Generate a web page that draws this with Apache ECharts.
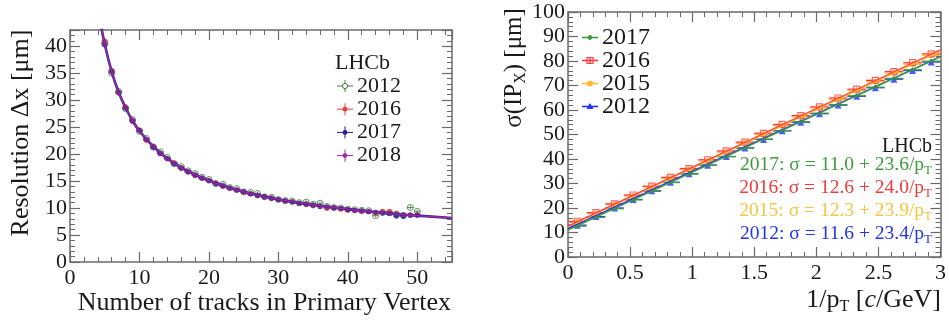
<!DOCTYPE html>
<html>
<head>
<meta charset="utf-8">
<script src="https://cdn.jsdelivr.net/npm/echarts@6/dist/echarts.min.js"></script>
<style>
  html, body { margin: 0; padding: 0; background: #fff; }
  #c { width: 949px; height: 327px; }
</style>
</head>
<body>
<div id="c"></div>
<script>
// ---------- Left panel: PV resolution vs number of tracks ----------
const nTracks = [5, 6, 7, 8, 9, 10, 11, 12, 13, 14, 15, 16, 17, 18, 19, 20, 21, 22, 23, 24, 25, 26, 27,
  28, 29, 30, 31, 32, 33, 34, 35, 36, 37, 38, 39, 40, 41, 42, 43, 44, 45, 46, 47, 48, 49, 50];
const res2012 = [40.6, 35.0, 31.6, 28.4, 26.4, 24.2, 22.9, 21.3, 20.4, 19.4, 18.2, 17.7, 16.9, 16.4, 15.7,
  15.3, 14.5, 14.4, 13.8, 13.6, 13.0, 12.9, 12.7, 12.1, 12.0, 11.6, 11.4, 11.3, 11.0, 11.1, 10.7, 10.9,
  10.3, 10.1, 10.0, 9.8, 9.7, 9.6, 9.5, 8.6, 9.2, 9.1, 8.9, 8.6, 10.1, 9.4];
const res2016 = [41.0, 35.6, 31.3, 28.8, 26.0, 24.5, 22.5, 21.5, 20.0, 19.1, 18.4, 17.3, 16.7, 16.0, 15.5,
  15.1, 14.7, 14.0, 13.6, 13.3, 12.9, 12.6, 12.3, 12.2, 11.7, 11.5, 11.2, 11.1, 10.8, 10.6, 10.4, 10.3,
  9.9, 10.0, 9.8, 9.6, 9.5, 9.3, 9.3, 9.1, 9.4, 9.4, 9.0, 8.7, 8.8, 8.8];
const res2017 = [40.2, 35.3, 31.5, 28.5, 26.2, 24.4, 22.7, 21.2, 20.1, 19.2, 18.2, 17.4, 16.7, 16.1, 15.5,
  15.0, 14.5, 14.1, 13.7, 13.3, 13.0, 12.6, 12.3, 12.0, 11.8, 11.6, 11.3, 11.1, 10.9, 10.7, 10.5, 10.3,
  10.2, 10.0, 9.9, 9.7, 9.6, 9.5, 9.3, 9.2, 9.1, 9.0, 8.5, 8.5, 8.6, 8.7];
const res2018 = [40.5, 35.2, 31.4, 28.6, 26.3, 24.3, 22.7, 21.4, 20.2, 19.2, 18.3, 17.5, 16.8, 16.2, 15.6,
  15.1, 14.6, 14.2, 13.7, 13.4, 13.0, 12.7, 12.4, 12.1, 11.9, 11.6, 11.4, 11.2, 10.9, 10.8, 10.6, 10.4,
  10.2, 10.1, 9.9, 9.8, 9.6, 9.5, 9.4, 9.2, 9.1, 9.0, 8.9, 8.8, 8.7, 8.6];
// fitted resolution curve, sampled
const fitN = [4.5, 5, 6, 7, 8, 9, 10, 12, 14, 16, 18, 20, 23, 26, 30, 35, 40, 45, 50, 55];
const fitRes = [43.6, 40.4, 35.3, 31.5, 28.6, 26.2, 24.3, 21.4, 19.2, 17.5, 16.2, 15.1, 13.8, 12.7, 11.6,
  10.6, 9.8, 9.1, 8.6, 8.15];
const leftYears = ['2012', '2016', '2017', '2018'];
const leftTicksX = [0, 10, 20, 30, 40, 50];
const leftTicksY = [0, 5, 10, 15, 20, 25, 30, 35, 40];

// ---------- Right panel: IP_x resolution vs 1/pT ----------
const invPt = [0.075, 0.225, 0.375, 0.525, 0.675, 0.825, 0.975, 1.125, 1.275, 1.425, 1.575, 1.725,
  1.875, 2.025, 2.175, 2.325, 2.475, 2.625, 2.775, 2.925];
const ip2017 = [12.6, 16.2, 19.7, 23.3, 26.8, 30.4, 33.9, 37.5, 41.0, 44.5, 48.1, 51.6, 55.2, 58.7, 62.2,
  65.8, 69.3, 72.9, 76.4, 79.9];
const ip2016 = [14.6, 18.1, 21.7, 25.3, 28.9, 32.5, 36.1, 39.7, 43.3, 46.9, 50.5, 54.1, 57.7, 61.3, 64.9,
  68.5, 72.1, 75.7, 79.3, 82.9];
const ip2015 = [14.3, 17.8, 21.4, 24.9, 28.5, 32.1, 35.7, 39.2, 42.8, 46.4, 50.0, 53.6, 57.2, 60.8, 64.3,
  67.9, 71.5, 75.1, 78.7, 82.3];
const ip2012 = [13.0, 16.5, 20.0, 23.5, 27.0, 30.5, 34.0, 37.5, 41.0, 44.5, 48.0, 51.5, 55.0, 58.5, 62.0,
  65.6, 69.1, 72.6, 76.1, 79.6];
const rightYears = ['2017', '2016', '2015', '2012'];
const fitConst = [11.0, 12.6, 12.3, 11.6];   // sigma = a + b/pT
const fitSlope = [23.6, 24.0, 23.9, 23.4];
const rightTicksX = [0, 0.5, 1, 1.5, 2, 2.5, 3];
const rightTicksY = [0, 10, 20, 30, 40, 50, 60, 70, 80, 90, 100];

// ---------- styling ----------
const FONT = '"Liberation Serif", "Times New Roman", serif';
const AX = '#6a6a6a';
const TXT = '#1a1a1a';
const leftColors = { '2012': '#3f7f3f', '2016': '#f23a3a', '2017': '#1e1ea0', '2018': '#a02ca0' };
const rightColors = { '2017': '#3c9c3c', '2016': '#ff3d3d', '2015': '#ffb935', '2012': '#2233ff' };
const rightText = { '2017': '#3c9c3c', '2016': '#f03a3a', '2015': '#f5c542', '2012': '#2233ee' };

function pairs(xs, ys) { return xs.map((x, i) => [x, ys[i]]); }

function errorBars(ex, ey, color, width) {
  return function (params, api) {
    const x = api.value(0), y = api.value(1);
    const l = api.coord([x - ex, y]), r = api.coord([x + ex, y]);
    const t = api.coord([x, y + ey]), b = api.coord([x, y - ey]);
    return {
      type: 'group',
      children: [
        { type: 'line', shape: { x1: l[0], y1: l[1], x2: r[0], y2: r[1] }, style: { stroke: color, lineWidth: width } },
        { type: 'line', shape: { x1: t[0], y1: t[1], x2: b[0], y2: b[1] }, style: { stroke: color, lineWidth: width } }
      ]
    };
  };
}

function valueAxis(grid, pos, min, max, interval, ticks, labels, fontSize, margin) {
  return {
    gridIndex: grid, type: 'value', position: pos, min: min, max: max, interval: interval,
    axisLine: { show: true, onZero: false, lineStyle: { color: AX, width: 1.5 } },
    axisTick: { show: true, inside: true, length: 10, lineStyle: { color: AX, width: 1.2 } },
    minorTick: { show: true, splitNumber: 5, length: 5, lineStyle: { color: AX, width: 1 } },
    splitLine: { show: false },
    axisLabel: labels ? {
      show: true, margin: margin, fontFamily: FONT, fontSize: fontSize, color: TXT,
      formatter: v => (ticks.indexOf(v) >= 0 ? String(v) : '')
    } : { show: false }
  };
}

const series = [];

// left panel points with error bars
const leftData = { '2012': res2012, '2016': res2016, '2017': res2017, '2018': res2018 };
leftYears.forEach(yr => {
  const d = pairs(nTracks, leftData[yr]);
  const c = leftColors[yr];
  series.push({
    type: 'custom', xAxisIndex: 0, yAxisIndex: 0, data: d, clip: true,
    renderItem: errorBars(0.5, 0.35, c, 0.8), z: 2, silent: true
  });
  series.push({
    type: 'scatter', xAxisIndex: 0, yAxisIndex: 0, data: d, z: 3, silent: true,
    symbol: 'circle', symbolSize: yr === '2012' ? 6 : 5,
    itemStyle: yr === '2012'
      ? { color: 'rgba(0,0,0,0)', borderColor: c, borderWidth: 1 }
      : { color: c, borderWidth: 0 }
  });
});
// left panel fitted curve
series.push({
  type: 'line', xAxisIndex: 0, yAxisIndex: 0, data: pairs(fitN, fitRes), smooth: true, showSymbol: false,
  lineStyle: { color: '#26268f', width: 2.6 }, z: 4, clip: true, silent: true
});
series.push({
  type: 'line', xAxisIndex: 0, yAxisIndex: 0, data: pairs(fitN, fitRes), smooth: true, showSymbol: false,
  lineStyle: { color: '#a3269f', width: 1.4 }, z: 5, clip: true, silent: true
});

// right panel points, error bars and linear fits
const rightData = { '2017': ip2017, '2016': ip2016, '2015': ip2015, '2012': ip2012 };
const rightSymbols = {
  '2012': { symbol: 'triangle', symbolSize: 7, itemStyle: { color: rightColors['2012'] } },
  '2017': { symbol: 'circle', symbolSize: 4, itemStyle: { color: rightColors['2017'] } },
  '2015': { symbol: 'circle', symbolSize: 6, itemStyle: { color: rightColors['2015'] } },
  '2016': { symbol: 'rect', symbolSize: 6, itemStyle: { color: 'rgba(0,0,0,0)', borderColor: rightColors['2016'], borderWidth: 1.2 } }
};
['2012', '2017', '2015', '2016'].forEach(yr => {
  const i = rightYears.indexOf(yr);
  const c = rightColors[yr];
  const d = pairs(invPt, rightData[yr]);
  series.push({
    type: 'custom', xAxisIndex: 2, yAxisIndex: 2, data: d, clip: true,
    renderItem: errorBars(0.075, 0.7, c, 1.3), z: 2, silent: true
  });
  series.push(Object.assign({ type: 'scatter', xAxisIndex: 2, yAxisIndex: 2, data: d, z: 3, silent: true },
    rightSymbols[yr]));
  series.push({
    type: 'line', xAxisIndex: 2, yAxisIndex: 2, showSymbol: false, silent: true, z: 4,
    data: [[0, fitConst[i]], [3, fitConst[i] + 3 * fitSlope[i]]],
    lineStyle: { color: c, width: 1.3 }
  });
});

// ---------- legends, labels and titles ----------
const graphic = [];
function crossMark(cx, cy, hw, hh, color, marker) {
  const kids = [
    { type: 'line', shape: { x1: cx - hw, y1: cy, x2: cx + hw, y2: cy }, style: { stroke: color, lineWidth: 1 } },
    { type: 'line', shape: { x1: cx, y1: cy - hh, x2: cx, y2: cy + hh }, style: { stroke: color, lineWidth: 1 } }
  ];
  if (marker) kids.push(marker);
  return kids;
}

// left legend
graphic.push({ type: 'text', x: 335, y: 63, style: { text: 'LHCb', font: '22px ' + FONT, fill: TXT, align: 'left', verticalAlign: 'middle' } });
leftYears.forEach((yr, k) => {
  const cy = 86 + k * 23.2, c = leftColors[yr];
  const mk = yr === '2012'
    ? { type: 'circle', shape: { cx: 345, cy: cy, r: 2.6 }, style: { fill: '#fff', stroke: c, lineWidth: 1 } }
    : { type: 'circle', shape: { cx: 345, cy: cy, r: 2.4 }, style: { fill: c } };
  crossMark(345, cy, 8, 6, c, mk).forEach(g => graphic.push(g));
  graphic.push({ type: 'text', x: 357, y: cy, style: { text: yr, font: '22px ' + FONT, fill: TXT, align: 'left', verticalAlign: 'middle' } });
});

// right legend
rightYears.forEach((yr, k) => {
  const cy = 37.5 + k * 23, c = rightColors[yr];
  let mk;
  if (yr === '2016') mk = { type: 'rect', shape: { x: 587, y: cy - 3, width: 6, height: 6 }, style: { fill: 'none', stroke: c, lineWidth: 1.2 } };
  else if (yr === '2012') mk = { type: 'polygon', shape: { points: [[590, cy - 3.5], [593.5, cy + 2.5], [586.5, cy + 2.5]] }, style: { fill: c } };
  else mk = { type: 'circle', shape: { cx: 590, cy: cy, r: yr === '2015' ? 3 : 2.2 }, style: { fill: c } };
  crossMark(590, cy, 8, 2.5, c, mk).forEach(g => { if (g.type === 'line') g.style.lineWidth = 1.6; graphic.push(g); });
  graphic.push({ type: 'text', x: 602, y: cy, style: { text: yr, font: '24px ' + FONT, fill: TXT, align: 'left', verticalAlign: 'middle' } });
});

// right panel fit results
graphic.push({ type: 'text', x: 932, y: 147, style: { text: 'LHCb', font: '20px ' + FONT, fill: TXT, align: 'right', verticalAlign: 'middle' } });
rightYears.forEach((yr, k) => {
  const txt = yr + ': \u03c3 = ' + fitConst[k].toFixed(1) + ' + ' + fitSlope[k].toFixed(1) + '/p';
  graphic.push({
    type: 'text', x: 932, y: 165 + k * 23,
    style: {
      text: '{m|' + txt + '}{s|T}', align: 'right', verticalAlign: 'middle',
      rich: {
        m: { fontFamily: FONT, fontSize: 19.5, lineHeight: 24, fill: rightText[yr] },
        s: { fontFamily: FONT, fontSize: 13, lineHeight: 12, verticalAlign: 'bottom', fill: rightText[yr] }
      }
    }
  });
});

// axis titles
graphic.push({
  type: 'text', x: 451, y: 303,
  style: { text: 'Number of tracks in Primary Vertex', font: '26px ' + FONT, fill: TXT, align: 'right', verticalAlign: 'middle' }
});
graphic.push({
  type: 'text', x: 21, y: 133, rotation: Math.PI / 2,
  style: { text: 'Resolution \u0394x [\u03bcm]', font: '26px ' + FONT, fill: TXT, align: 'center', verticalAlign: 'middle' }
});
graphic.push({
  type: 'text', x: 941, y: 300,
  style: {
    text: '{m|1/p}{s|T}{m| [}{i|c}{m|/GeV]}', align: 'right', verticalAlign: 'middle',
    rich: {
      m: { fontFamily: FONT, fontSize: 26, lineHeight: 30, fill: TXT },
      i: { fontFamily: FONT, fontSize: 26, lineHeight: 30, fontStyle: 'italic', fill: TXT },
      s: { fontFamily: FONT, fontSize: 16, lineHeight: 16, verticalAlign: 'bottom', fill: TXT }
    }
  }
});
graphic.push({
  type: 'text', x: 514, y: 68, rotation: Math.PI / 2,
  style: {
    text: '{m|\u03c3(IP}{s|X}{m|) [\u03bcm]}', align: 'center', verticalAlign: 'middle',
    rich: {
      m: { fontFamily: FONT, fontSize: 25, lineHeight: 30, fill: TXT },
      s: { fontFamily: FONT, fontSize: 16, lineHeight: 16, verticalAlign: 'bottom', fill: TXT }
    }
  }
});

const option = {
  animation: false,
  backgroundColor: '#fff',
  grid: [
    { left: 70, top: 30, width: 382, height: 232, containLabel: false },
    { left: 568, top: 12, width: 374, height: 245, containLabel: false }
  ],
  xAxis: [
    valueAxis(0, 'bottom', 0, 55, 10, leftTicksX, true, 22, 5),
    valueAxis(0, 'top', 0, 55, 10, leftTicksX, false),
    valueAxis(1, 'bottom', 0, 3, 0.5, rightTicksX, true, 22, 5),
    valueAxis(1, 'top', 0, 3, 0.5, rightTicksX, false)
  ],
  yAxis: [
    valueAxis(0, 'left', 0, 43, 5, leftTicksY, true, 22, 3),
    valueAxis(0, 'right', 0, 43, 5, leftTicksY, false),
    valueAxis(1, 'left', 0, 100, 10, rightTicksY, true, 22, 3),
    valueAxis(1, 'right', 0, 100, 10, rightTicksY, false)
  ],
  series: series,
  graphic: graphic
};

const chart = echarts.init(document.getElementById('c'), null, { renderer: 'canvas' });
chart.setOption(option);
</script>
</body>
</html>
